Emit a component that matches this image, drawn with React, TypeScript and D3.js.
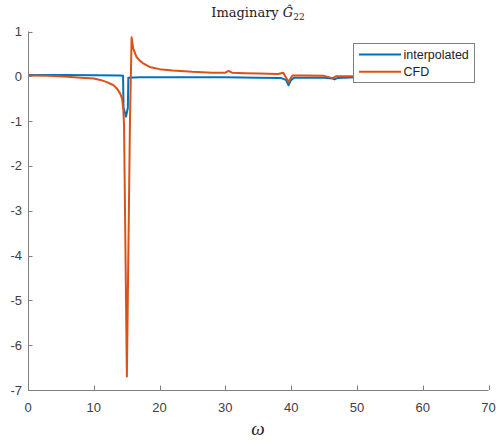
import React from "react";
import * as d3 from "d3";

// ---- data ----
const interpX = [0, 5, 10, 14.0, 14.45, 14.52, 14.9, 15.18, 15.25, 17, 20, 25, 30, 35, 38.5, 39.2, 39.6, 40.0, 40.5, 45, 46.3, 46.6, 47, 50, 55, 62];
const interpY = [0.03, 0.03, 0.025, 0.02, 0.015, -0.7, -0.9, -0.7, -0.03, -0.02, -0.02, -0.02, -0.02, -0.03, -0.04, -0.08, -0.2, -0.08, -0.03, -0.03, -0.05, -0.07, -0.04, -0.02, -0.02, -0.02];

const cfdX = [0, 3, 6, 8, 10, 11, 12, 13, 13.5, 14, 14.3, 14.5, 14.6, 15.03, 15.5, 15.75, 16.0, 16.5, 17, 17.5, 18.5, 20, 22, 25, 28, 30, 30.5, 31, 33, 35, 38, 38.8, 39.6, 40.2, 42, 45, 46.3, 46.8, 48, 50, 55, 62];
const cfdY = [0.02, 0.01, -0.01, -0.03, -0.05, -0.08, -0.13, -0.2, -0.27, -0.38, -0.5, -0.75, -1.1, -6.7, -1.0, 0.87, 0.62, 0.43, 0.35, 0.29, 0.21, 0.16, 0.13, 0.1, 0.08, 0.08, 0.12, 0.08, 0.07, 0.06, 0.05, 0.08, -0.12, 0.02, 0.02, 0.01, -0.04, 0.0, 0.0, 0.0, 0.0, 0.0];

const xTicks = [0, 10, 20, 30, 40, 50, 60, 70];
const yTicks = [1, 0, -1, -2, -3, -4, -5, -6, -7];
const seriesNames = ["interpolated", "CFD"];
const seriesColors = ["#0072BD", "#D95319"];

export default function App() {
  const W = 496, H = 441;
  const x = d3.scaleLinear().domain([0, 70]).range([28, 488.5]);
  const y = d3.scaleLinear().domain([-7, 1]).range([390, 31.5]);
  const line = d3.line<[number, number]>().x(d => x(d[0])).y(d => y(d[1]));
  const series = [
    interpX.map((v, i) => [v, interpY[i]] as [number, number]),
    cfdX.map((v, i) => [v, cfdY[i]] as [number, number]),
  ];
  const axisColor = "#808080";
  const textColor = "#404040";
  const x0 = x(0), y0 = y(-7);
  return (
    <svg width={W} height={H} style={{ position: "absolute", left: 0, top: 0, background: "#fff" }}>
      <rect x={0} y={0} width={W} height={H} fill="#fff" />
      {/* title */}
      <text x={258} y={17} textAnchor="middle" fontFamily="'DejaVu Serif', serif" fontSize={13} fill="#222">
        <tspan>Imaginary </tspan>
        <tspan fontStyle="italic">Ĝ</tspan>
        <tspan fontSize={9} dy={3}>22</tspan>
      </text>
      {/* lines */}
      <defs>
        <clipPath id="plotclip">
          <rect x={28} y={20} width={462} height={372} />
        </clipPath>
      </defs>
      <g clipPath="url(#plotclip)">
        {series.map((s, i) => (
          <path key={i} d={line(s) || ""} fill="none" stroke={seriesColors[i]} strokeWidth={2} strokeLinejoin="round" />
        ))}
      </g>
      {/* axes */}
      <line x1={x0} x2={x(70)} y1={y0 + 0.5} y2={y0 + 0.5} stroke={axisColor} strokeWidth={1} />
      <line x1={x0 + 0.5} x2={x0 + 0.5} y1={y(1)} y2={y0} stroke={axisColor} strokeWidth={1} />
      {xTicks.map(t => (
        <g key={"x" + t}>
          <line x1={Math.round(x(t)) + 0.5} x2={Math.round(x(t)) + 0.5} y1={y0} y2={y0 - 4.5} stroke={axisColor} />
          <text x={x(t)} y={412} textAnchor="middle" fontFamily="'Liberation Sans', Arial, sans-serif" fontSize={13} fill={textColor}>{t}</text>
        </g>
      ))}
      {yTicks.map(t => (
        <g key={"y" + t}>
          <line x1={x0} x2={x0 + 4.5} y1={Math.round(y(t)) + 0.5} y2={Math.round(y(t)) + 0.5} stroke={axisColor} />
          <text x={22} y={y(t) + 4.5} textAnchor="end" fontFamily="'Liberation Sans', Arial, sans-serif" fontSize={13} fill={textColor}>{t}</text>
        </g>
      ))}
      {/* x label */}
      <text x={258} y={435} textAnchor="middle" fontFamily="'Liberation Serif', serif" fontStyle="italic" fontSize={19} fill="#222">ω</text>
      {/* legend */}
      <rect x={353.5} y={43.5} width={121} height={39} fill="#fff" stroke="#808080" strokeWidth={1} />
      {seriesNames.map((n, i) => (
        <g key={n}>
          <line x1={359} x2={401} y1={54.5 + i * 17.3} y2={54.5 + i * 17.3} stroke={seriesColors[i]} strokeWidth={2} />
          <text x={403.5} y={58.5 + i * 17.5} fontFamily="'Liberation Sans', Arial, sans-serif" fontSize={12.5} fill="#222">{n}</text>
        </g>
      ))}
    </svg>
  );
}
